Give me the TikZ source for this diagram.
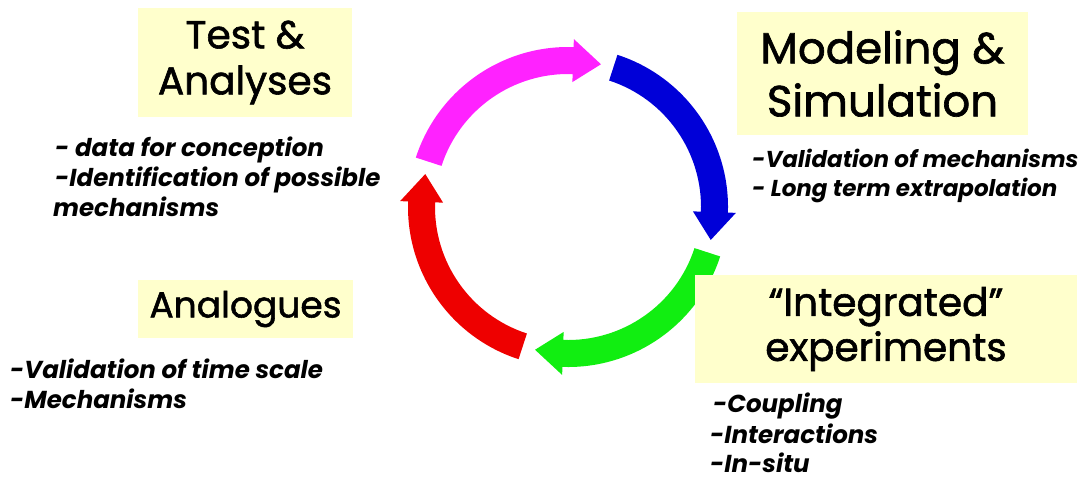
\documentclass[tikz,border=0pt]{standalone}
\usepackage{fontspec}
\setmainfont{Poppins}
\newfontfamily\titlefont{Poppins}[FakeBold=1.5]
\definecolor{boxyellow}{HTML}{FFFFCC}
\definecolor{cycmagenta}{HTML}{FF22FF}
\definecolor{cycblue}{HTML}{0000D8}
\definecolor{cycgreen}{HTML}{11EE11}
\definecolor{cycred}{HTML}{EE0000}
% curved arrow on the cycle: colour, tail angle, tip angle
\newcommand\cyclearrow[3]{%
  \pgfmathsetmacro\headbase{#3+11}%
  \fill[#1] (#2:160) arc[start angle=#2, end angle=\headbase, radius=160]
    -- (\headbase:168) -- (#3:146.5) -- (\headbase:125) -- (\headbase:133)
    arc[start angle=\headbase, end angle=#2, radius=133] -- cycle;}
\begin{document}
\begin{tikzpicture}[x=1pt,y=1pt,
  titlebox/.style={fill=boxyellow, inner sep=0pt, align=center},
  note/.style={anchor=base west, inner sep=0pt, font=\fontsize{24.5}{28}\selectfont\bfseries\itshape}]
\useasboundingbox (0,0) rectangle (1078,-480);

% the four-step cycle
\begin{scope}[shift={(568,-207)}]
  \cyclearrow{cycmagenta}{162}{77}
  \cyclearrow{cycblue}{72}{-13}
  \cyclearrow{cycgreen}{-18}{-103}
  \cyclearrow{cycred}{-108}{-193}
\end{scope}

% title boxes
\node[titlebox, minimum width=214, minimum height=109,
  font=\titlefont\fontsize{39}{46}\selectfont] (ta) at (245,-62.5) {Test \&\\Analyses};
\node[titlebox, minimum width=291, minimum height=123,
  font=\titlefont\fontsize{43.5}{53}\selectfont] (ms) at (882.5,-73.5) {Modeling \&\\Simulation};
\node[titlebox, minimum width=215, minimum height=58,
  font=\titlefont\fontsize{36}{44}\selectfont] (an) at (245.5,-309) {Analogues};
\node[titlebox, minimum width=382, minimum height=108,
  font=\titlefont\fontsize{39}{45}\selectfont] (ie) at (886,-329) {“Integrated”\\experiments};

% notes
\node[note] (ta1) at (55,-156) {- data for conception};
\node[note] (ta2) at (55,-186) {-Identification of possible};
\node[note] (ta3) at (53,-216) {mechanisms};

\node[note, font=\fontsize{23}{28}\selectfont\bfseries\itshape] (ms1) at (752,-167) {-Validation of mechanisms};
\node[note, font=\fontsize{23}{28}\selectfont\bfseries\itshape] (ms2) at (752,-196) {- Long term extrapolation};

\node[note] (an1) at (10,-378) {-Validation of time scale};
\node[note] (an2) at (10,-408) {-Mechanisms};

\node[note] (ie1) at (713,-412) {-Coupling};
\node[note] (ie2) at (710,-443) {-Interactions};
\node[note] (ie3) at (710,-472) {-In-situ};
\end{tikzpicture}
\end{document}
